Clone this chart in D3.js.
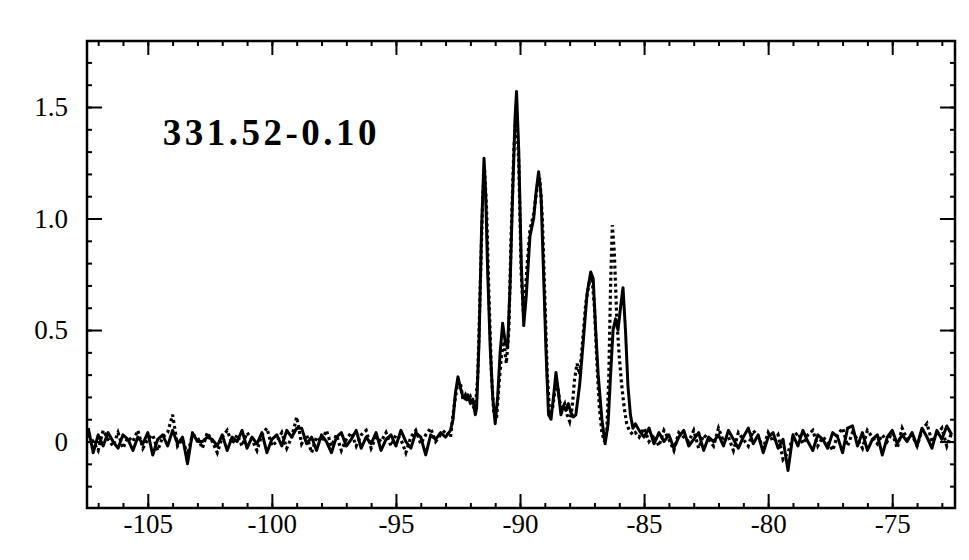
<!DOCTYPE html>
<html>
<head>
<meta charset="utf-8">
<script src="https://cdn.jsdelivr.net/npm/d3@7"></script>
<style>
  body { margin: 0; background: #fff; }
  text { font-family: "Liberation Serif", "DejaVu Serif", serif; fill: #000; }
</style>
</head>
<body>
<svg id="chart" width="969" height="560"></svg>
<script>
// channel grid for the noisy baseline parts
const chanStep = 0.2;
const leftStart = -107.4;
const rightStart = -85.2;

// solid spectrum
const solidLeft = [
  0.06,-0.05,0.03,-0.02,0.04,0.00,-0.03,0.03,0.01,-0.04,
  0.02,-0.01,0.04,-0.06,0.01,0.03,-0.02,0.05,-0.01,0.02,
  -0.10,0.04,0.00,0.00,0.02,0.01,-0.02,0.03,-0.04,0.02,
  0.00,0.05,-0.03,0.02,-0.01,0.04,-0.05,0.01,0.03,-0.02,
  0.05,0.02,0.06,0.06,-0.01,0.02,-0.04,0.03,0.00,-0.05,
  0.02,0.04,-0.02,0.01,0.05,-0.03,0.02,-0.01,0.04,-0.04,
  0.01,0.03,-0.02,0.05,0.00,-0.03,0.04,0.02,-0.06,0.03,
  0.01,0.04,0.02,0.05
];
const solidPeak = [
  [-92.7,0.10],[-92.6,0.22],[-92.5,0.29],[-92.4,0.24],[-92.3,0.20],[-92.2,0.19],
  [-92.1,0.21],[-92.0,0.17],[-91.9,0.19],[-91.8,0.12],[-91.75,0.15],[-91.65,0.45],
  [-91.55,0.95],[-91.45,1.27],[-91.38,1.10],[-91.3,0.75],[-91.2,0.42],[-91.1,0.20],
  [-91.0,0.08],[-90.9,0.20],[-90.8,0.40],[-90.7,0.53],[-90.6,0.45],[-90.5,0.42],
  [-90.4,0.70],[-90.3,1.10],[-90.2,1.45],[-90.14,1.57],[-90.05,1.30],[-89.95,0.80],
  [-89.85,0.52],[-89.75,0.65],[-89.6,0.92],[-89.45,1.00],[-89.35,1.12],[-89.25,1.21],
  [-89.15,1.10],[-89.05,0.75],[-88.95,0.40],[-88.85,0.12],[-88.75,0.10],[-88.65,0.20],
  [-88.55,0.31],[-88.45,0.22],[-88.35,0.12],[-88.25,0.16],[-88.15,0.14],[-88.05,0.17],
  [-87.95,0.13],[-87.85,0.11],[-87.75,0.12],[-87.6,0.25],[-87.45,0.45],[-87.3,0.66],
  [-87.15,0.76],[-87.05,0.73],[-86.95,0.50],[-86.85,0.30],[-86.7,0.10],[-86.57,-0.01],
  [-86.45,0.08],[-86.35,0.30],[-86.25,0.50],[-86.15,0.55],[-86.05,0.50],[-85.95,0.60],
  [-85.85,0.69],[-85.75,0.50],[-85.65,0.25],[-85.55,0.12],[-85.45,0.06],[-85.35,0.08]
];
const solidRight = [
  0.05,0.02,0.06,-0.01,0.04,0.00,0.03,-0.03,0.02,0.05,
  -0.02,0.01,0.04,-0.04,0.02,0.00,0.03,-0.02,0.05,0.01,
  -0.03,0.02,0.06,-0.01,0.03,-0.05,0.02,0.04,-0.03,0.01,
  -0.13,0.03,-0.02,0.05,0.00,-0.04,0.03,0.01,-0.03,0.04,
  0.02,-0.05,0.06,0.07,-0.02,0.04,-0.04,0.01,0.03,-0.06,
  0.02,0.05,-0.01,0.03,0.00,0.04,-0.02,0.06,0.02,-0.03,
  0.05,0.01,0.07,0.03
];

// dotted spectrum
const dottedLeft = [
  0.03,0.00,-0.04,0.05,0.01,-0.02,0.04,-0.03,0.02,0.00,
  0.05,-0.03,0.01,0.03,-0.04,0.02,0.04,0.12,-0.02,0.01,
  -0.06,0.03,0.02,-0.03,0.04,0.00,-0.05,0.02,0.05,-0.01,
  0.03,-0.02,0.04,0.01,-0.04,0.03,0.06,-0.02,0.00,0.04,
  -0.03,0.02,0.11,-0.01,0.03,-0.05,0.02,0.00,0.05,-0.02,
  0.03,-0.04,0.01,0.04,-0.02,0.03,0.05,-0.03,0.02,0.00,
  0.04,-0.02,0.03,0.01,-0.05,0.02,0.05,-0.01,0.03,0.06,
  0.00,0.03,0.05,0.02
];
const dottedPeak = [
  [-92.7,0.12],[-92.6,0.20],[-92.5,0.27],[-92.4,0.26],[-92.3,0.19],[-92.2,0.21],
  [-92.1,0.18],[-92.0,0.20],[-91.9,0.16],[-91.8,0.14],[-91.7,0.30],[-91.6,0.70],
  [-91.5,1.10],[-91.43,1.22],[-91.35,1.05],[-91.25,0.65],[-91.15,0.30],[-91.05,0.12],
  [-90.95,0.10],[-90.85,0.25],[-90.75,0.38],[-90.65,0.45],[-90.55,0.35],[-90.45,0.50],
  [-90.35,0.95],[-90.25,1.30],[-90.15,1.50],[-90.05,1.25],[-89.95,0.75],[-89.85,0.55],
  [-89.72,0.78],[-89.6,0.95],[-89.45,1.02],[-89.3,1.15],[-89.2,1.18],[-89.1,1.00],
  [-89.0,0.65],[-88.9,0.30],[-88.8,0.12],[-88.7,0.14],[-88.6,0.22],[-88.5,0.26],
  [-88.4,0.18],[-88.3,0.15],[-88.2,0.17],[-88.1,0.12],[-88.0,0.09],[-87.9,0.15],
  [-87.8,0.28],[-87.7,0.35],[-87.6,0.30],[-87.5,0.42],[-87.35,0.62],[-87.2,0.72],
  [-87.1,0.74],[-87.0,0.60],[-86.9,0.35],[-86.8,0.15],[-86.7,0.04],[-86.6,0.00],
  [-86.5,0.05],[-86.42,0.30],[-86.35,0.70],[-86.28,0.97],[-86.2,0.85],[-86.1,0.55],
  [-86.0,0.38],[-85.9,0.25],[-85.8,0.15],[-85.7,0.08],[-85.6,0.05],[-85.45,0.03],
  [-85.35,0.04]
];
const dottedRight = [
  0.02,0.06,0.00,0.03,-0.02,0.05,0.01,-0.04,0.04,0.02,
  0.00,0.05,-0.03,0.03,0.01,-0.02,0.06,0.00,0.02,-0.04,
  0.04,0.01,-0.02,0.05,0.02,-0.03,0.04,0.00,0.03,-0.08,
  -0.05,0.02,0.04,-0.01,0.03,0.05,-0.02,0.02,0.00,-0.04,
  0.03,0.06,-0.02,0.04,0.01,-0.03,0.05,0.02,-0.01,0.03,
  0.00,0.04,-0.03,0.06,0.01,0.03,-0.02,0.05,0.08,0.00,
  0.03,0.06,-0.02,0.04
];

const xTicks = [-105, -100, -95, -90, -85, -80, -75];
const yTicks = [0, 0.5, 1.0, 1.5];
const yTickLabels = ["0", "0.5", "1.0", "1.5"];
const sourceName = "331.52-0.10";

// join baseline channels + peak points into one series
function buildSeries(left, peak, right) {
  const pts = [];
  left.forEach((t, i) => pts.push([leftStart + i * chanStep, t]));
  peak.forEach(p => pts.push(p));
  right.forEach((t, i) => pts.push([rightStart + i * chanStep, t]));
  return pts;
}
const solid = buildSeries(solidLeft, solidPeak, solidRight);
const dotted = buildSeries(dottedLeft, dottedPeak, dottedRight);

const svg = d3.select("#chart");
const margin = {top: 41, right: 14, bottom: 52, left: 87};
const width = +svg.attr("width");
const height = +svg.attr("height");

const x = d3.scaleLinear()
            .domain([-107.45, -72.47])
            .range([margin.left, width - margin.right]);
const y = d3.scaleLinear()
            .domain([-0.298, 1.796])
            .range([height - margin.bottom, margin.top]);

svg.append("clipPath").attr("id", "clip")
   .append("rect")
   .attr("x", margin.left).attr("y", margin.top)
   .attr("width", width - margin.right - margin.left)
   .attr("height", height - margin.bottom - margin.top);

const line = d3.line().x(d => x(d[0])).y(d => y(d[1]));

// spectra
svg.append("path")
   .datum(dotted)
   .attr("clip-path", "url(#clip)")
   .attr("fill", "none")
   .attr("stroke", "#000")
   .attr("stroke-width", 3.2)
   .attr("stroke-dasharray", "3,3")
   .attr("d", line);

svg.append("path")
   .datum(solid)
   .attr("clip-path", "url(#clip)")
   .attr("fill", "none")
   .attr("stroke", "#000")
   .attr("stroke-width", 3)
   .attr("stroke-linejoin", "round")
   .attr("d", line);

// axes: ticks point inward on all four sides
const xMinor = d3.range(-107, -72, 1);
const yMinor = d3.range(-0.2, 1.75, 0.1);

svg.append("g")
   .attr("transform", `translate(0,${height - margin.bottom})`)
   .call(d3.axisBottom(x).tickValues(xMinor).tickSize(-5).tickFormat(""));
svg.append("g")
   .attr("transform", `translate(0,${height - margin.bottom})`)
   .call(d3.axisBottom(x).tickValues(xTicks).tickSize(-14).tickPadding(6)
           .tickFormat(d => d));
svg.append("g")
   .attr("transform", `translate(0,${margin.top})`)
   .call(d3.axisTop(x).tickValues(xMinor).tickSize(-5).tickFormat(""));
svg.append("g")
   .attr("transform", `translate(0,${margin.top})`)
   .call(d3.axisTop(x).tickValues(xTicks).tickSize(-14).tickFormat(""));

svg.append("g")
   .attr("transform", `translate(${margin.left},0)`)
   .call(d3.axisLeft(y).tickValues(yMinor).tickSize(-5).tickFormat(""));
svg.append("g")
   .attr("transform", `translate(${margin.left},0)`)
   .call(d3.axisLeft(y).tickValues(yTicks).tickSize(-15).tickPadding(19)
           .tickFormat((d, i) => yTickLabels[i]));
svg.append("g")
   .attr("transform", `translate(${width - margin.right},0)`)
   .call(d3.axisRight(y).tickValues(yMinor).tickSize(-5).tickFormat(""));
svg.append("g")
   .attr("transform", `translate(${width - margin.right},0)`)
   .call(d3.axisRight(y).tickValues(yTicks).tickSize(-15).tickFormat(""));

svg.selectAll(".domain").remove();
svg.selectAll(".tick line").attr("stroke", "#000").attr("stroke-width", 2);
svg.selectAll(".tick text")
   .style("font-family", "'Liberation Serif', serif")
   .style("font-size", "27px");

// frame
svg.append("rect")
   .attr("x", margin.left).attr("y", margin.top)
   .attr("width", width - margin.right - margin.left)
   .attr("height", height - margin.bottom - margin.top)
   .attr("fill", "none")
   .attr("stroke", "#000")
   .attr("stroke-width", 2.5);

// source label
svg.append("text")
   .attr("x", x(-104.4))
   .attr("y", y(1.33))
   .attr("font-size", 37)
   .attr("font-weight", "bold")
   .attr("letter-spacing", 3.5)
   .text(sourceName);
</script>
</body>
</html>
